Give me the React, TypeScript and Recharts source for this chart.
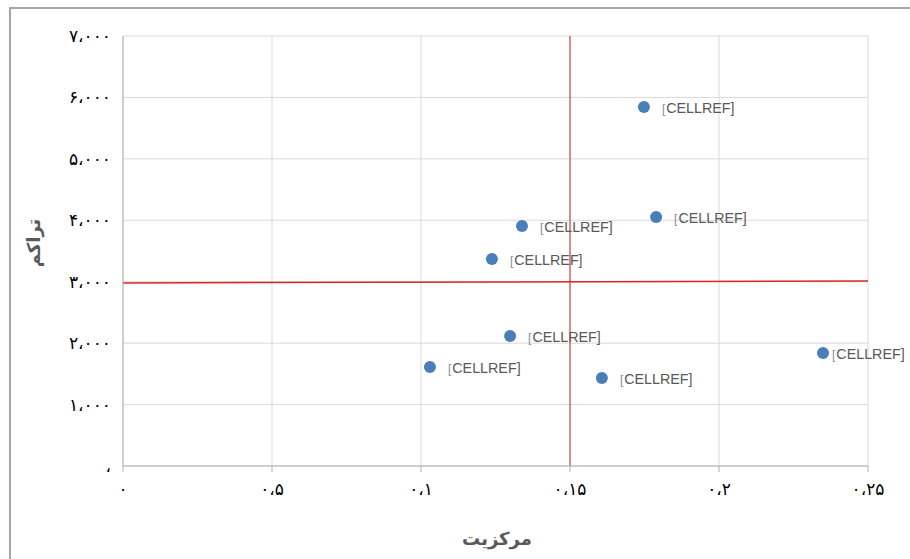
import React from "react";
import {
  ScatterChart,
  Scatter,
  XAxis,
  YAxis,
  CartesianGrid,
  ReferenceLine,
  LabelList,
} from "recharts";

const xValues = [0.1748, 0.1789, 0.1339, 0.1238, 0.1299, 0.103, 0.1607, 0.2349];
const yValues = [5844, 4053, 3907, 3370, 2116, 1612, 1433, 1840];
const pointLabels = [
  "CELLREF]",
  "CELLREF]",
  "CELLREF]",
  "CELLREF]",
  "CELLREF]",
  "CELLREF]",
  "CELLREF]",
  "CELLREF]",
];

const xTicks = [0, 0.05, 0.1, 0.15, 0.2, 0.25];
const xTickLabels = ["۰", "۰،۵", "۰،۱", "۰،۱۵", "۰،۲", "۰،۲۵"];
const yTicks = [0, 1000, 2000, 3000, 4000, 5000, 6000, 7000];
const yTickLabels = ["،", "۱،۰۰۰", "۲،۰۰۰", "۳،۰۰۰", "۴،۰۰۰", "۵،۰۰۰", "۶،۰۰۰", "۷،۰۰۰"];

const verticalRef = 0.15;
const horizontalRefStart = 2980;
const horizontalRefEnd = 3010;

const xTitle = "مرکزیت";
const yTitle = "تراکم";

const data = xValues.map((x, i) => ({ x, y: yValues[i], label: pointLabels[i] }));

const W = 910;
const H = 559;

const renderLabel = (props: any) => {
  const { x, y, width, height, value } = props;
  const cx = x + width / 2;
  const cy = y + height / 2;
  const textW = 72;
  const dx = Math.min(18, W - 6 - cx - textW);
  return (
    <text
      x={cx + dx}
      y={cy + 6}
      fontFamily="Liberation Sans, Arial, sans-serif"
      fontSize={14.3}
      fill="#595959"
    >
      <tspan fontSize={12} fill="#8c8c8c">[</tspan>
      <tspan dx={1}>{value}</tspan>
    </text>
  );
};

const Dot = (props: any) => (
  <circle cx={props.cx} cy={props.cy} r={6} fill="#4a7ebb" />
);

export default function App() {
  return (
    <div
      style={{
        position: "fixed",
        left: 0,
        top: 0,
        width: W,
        height: H,
        overflow: "hidden",
        background: "#fff",
      }}
    >
      <div
        style={{
          position: "absolute",
          left: 9,
          top: 7,
          width: W + 20,
          height: H + 20,
          border: "2px solid #a6a6a6",
          boxSizing: "border-box",
        }}
      />
      <div style={{ position: "absolute", left: 0, top: 0 }}>
        <ScatterChart
          width={W}
          height={H}
          margin={{ top: 36, right: 42, bottom: 63, left: 63 }}
        >
          <CartesianGrid stroke="#d9d9d9" strokeWidth={1} />
          <XAxis
            type="number"
            dataKey="x"
            domain={[0, 0.25]}
            ticks={xTicks}
            interval={0}
            height={30}
            tickSize={6}
            tickMargin={11}
            stroke="#b0b0b0"
            tick={{ fill: "#000", fontSize: 17, fontFamily: "DejaVu Sans" }}
            tickFormatter={(v: number) => xTickLabels[xTicks.indexOf(v)] ?? ""}
            allowDataOverflow
          />
          <YAxis
            type="number"
            dataKey="y"
            domain={[0, 7000]}
            ticks={yTicks}
            interval={0}
            width={60}
            tickLine={false}
            tickMargin={6}
            stroke="#b0b0b0"
            tick={{ fill: "#000", fontSize: 17, fontFamily: "DejaVu Sans" }}
            tickFormatter={(v: number) => yTickLabels[yTicks.indexOf(v)] ?? ""}
            allowDataOverflow
          />
          <ReferenceLine
            x={verticalRef}
            stroke="#e06666"
            strokeWidth={1.5}
          />
          <ReferenceLine
            segment={[
              { x: 0, y: horizontalRefStart },
              { x: 0.25, y: horizontalRefEnd },
            ]}
            stroke="#e02424"
            strokeWidth={1.5}
          />
          <Scatter data={data} shape={<Dot />} isAnimationActive={false}>
            <LabelList dataKey="label" content={renderLabel} />
          </Scatter>
          <text
            x={35}
            y={243}
            transform="rotate(-90 35 243)"
            textAnchor="middle"
            dominantBaseline="middle"
            fontFamily="DejaVu Sans"
            fontWeight="bold"
            fontSize={18}
            fill="#595959"
          >
            {yTitle}
          </text>
          <text
            x={497}
            y={540}
            textAnchor="middle"
            dominantBaseline="middle"
            fontFamily="DejaVu Sans"
            fontWeight="bold"
            fontSize={18}
            fill="#595959"
          >
            {xTitle}
          </text>
        </ScatterChart>
      </div>
    </div>
  );
}
